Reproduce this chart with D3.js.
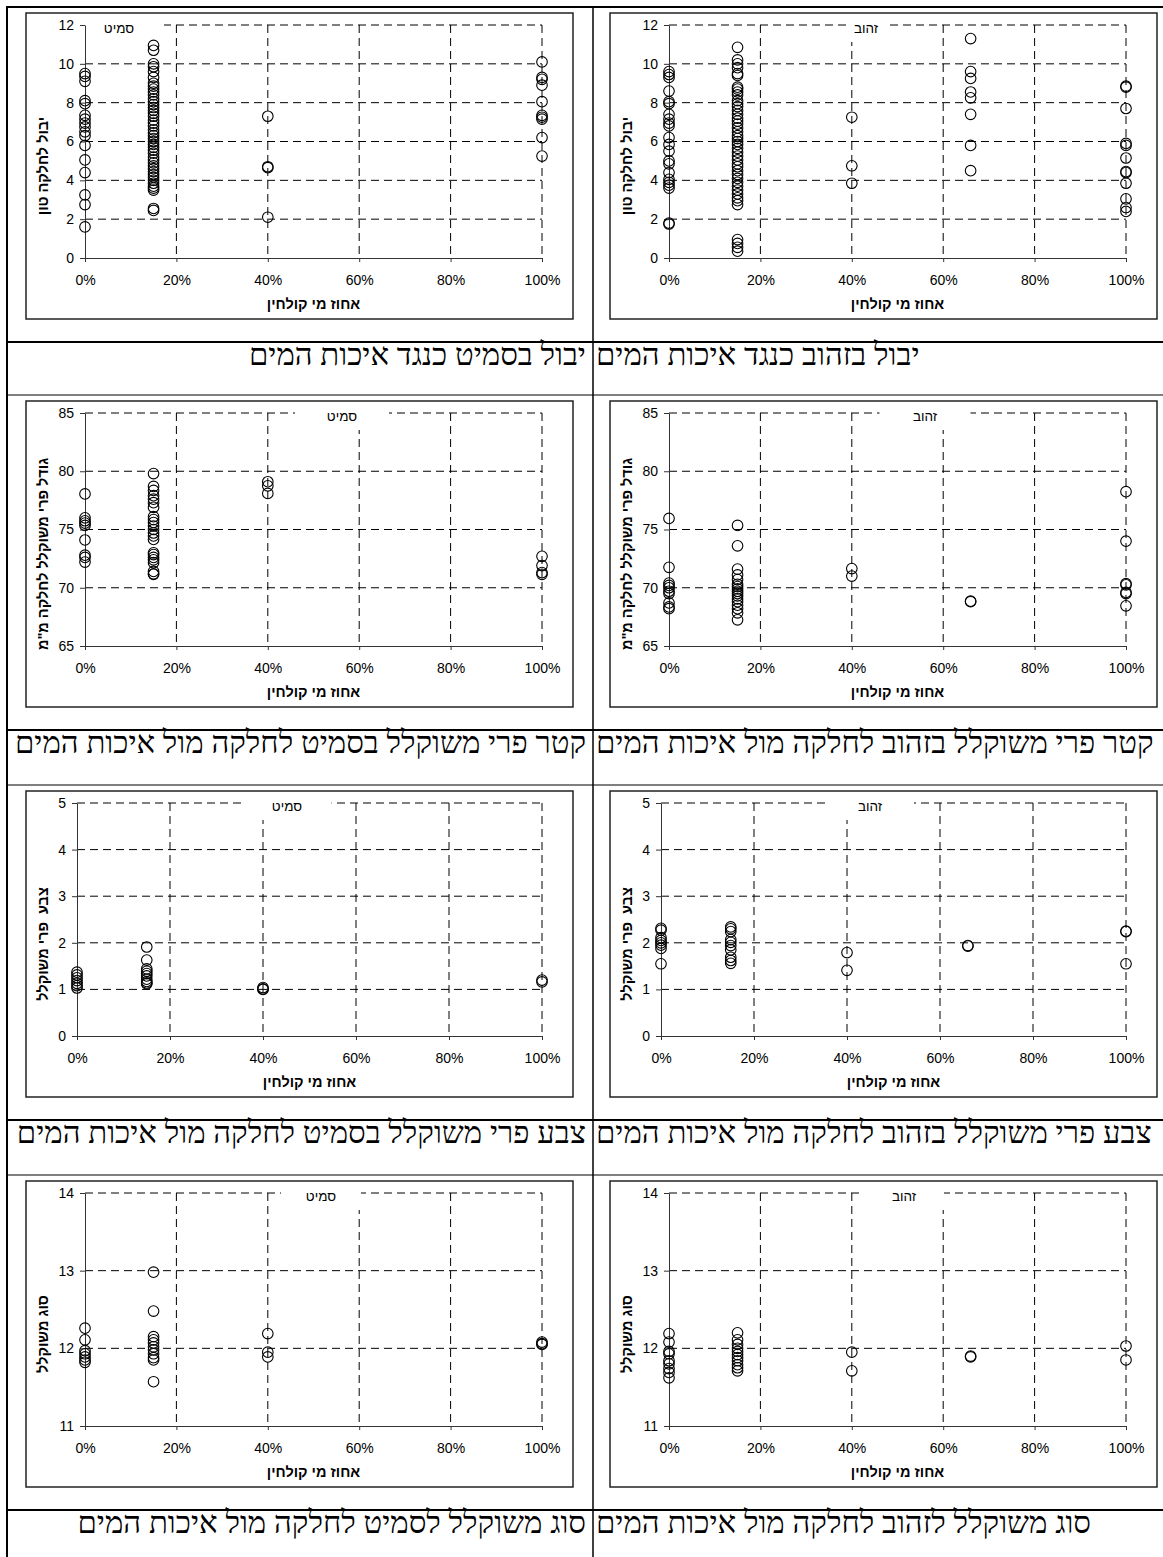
<!DOCTYPE html>
<html>
<head>
<meta charset="utf-8">
<script src="https://cdn.jsdelivr.net/npm/d3@7"></script>
<style>
  body { margin: 0; background: #fff; }
  svg { display: block; }
  .caption { font-family: 'Liberation Serif', 'Times New Roman', serif; font-size: 31px; fill: #000; }
  .ctitle { font-family: 'Liberation Sans', Arial, sans-serif; font-size: 13.5px; fill: #000; }
  .atitle { font-family: 'Liberation Sans', Arial, sans-serif; font-size: 14.5px; font-weight: bold; fill: #000; white-space: pre; }
</style>
</head>
<body>
<svg id="page" width="1163" height="1557"></svg>
<script>
// percent of effluent water on the x axis
const pctTicks = [0, 20, 40, 60, 80, 100]

// yield per plot (ton)
const samitYield = [
  [0, [9.5, 9.35, 9.1, 8.1, 7.95, 7.35, 7.15, 6.95, 6.75, 6.5, 6.3, 5.8, 5.05, 4.4, 3.25, 2.75, 1.6]],
  [15, [10.95, 10.7, 10.0, 9.85, 9.6, 9.3, 9.0, 8.85, 8.7, 8.55, 8.4, 8.2, 8.05, 7.9, 7.75, 7.6, 7.45, 7.3, 7.1, 6.95,
    6.8, 6.6, 6.45, 6.3, 6.15, 6.0, 5.85, 5.7, 5.55, 5.4, 5.2, 5.05, 4.9, 4.75, 4.6, 4.45, 4.3, 4.15, 4.0, 3.85,
    3.7, 3.6, 3.5, 2.55, 2.45]],
  [40, [7.3, 4.7, 4.65, 2.1]],
  [100, [10.1, 9.3, 9.2, 8.9, 8.05, 7.35, 7.25, 7.15, 6.2, 5.25]]
]
const zahovYield = [
  [0, [9.6, 9.45, 9.3, 8.6, 8.05, 7.95, 7.4, 7.15, 6.95, 6.8, 6.2, 5.85, 5.5, 5.0, 4.85, 4.4, 4.05, 3.9, 3.75, 3.6, 1.8, 1.75]],
  [15, [10.85, 10.2, 10.0, 9.8, 9.5, 9.4, 8.8, 8.7, 8.55, 8.4, 8.1, 7.95, 7.8, 7.6, 7.4, 7.2, 7.05, 6.9, 6.7, 6.5,
    6.3, 6.15, 6.0, 5.85, 5.65, 5.45, 5.25, 5.05, 4.85, 4.7, 4.5, 4.3, 4.1, 3.9, 3.7, 3.5, 3.3, 3.1, 2.95, 2.75,
    0.95, 0.75, 0.55, 0.35]],
  [40, [7.25, 4.75, 3.85]],
  [66, [11.3, 9.6, 9.25, 8.55, 8.25, 7.4, 5.8, 4.5]],
  [100, [8.85, 8.8, 7.7, 5.9, 5.8, 5.15, 4.45, 4.4, 3.85, 3.05, 2.6, 2.4]]
]

// weighted fruit diameter per plot (mm)
const samitSize = [
  [0, [78.05, 76.0, 75.75, 75.55, 75.35, 74.1, 72.8, 72.6, 72.2]],
  [15, [79.8, 78.7, 78.35, 77.9, 77.6, 77.3, 76.9, 76.1, 75.85, 75.6, 75.3, 75.0, 74.7, 74.45, 74.15, 73.0, 72.85,
    72.6, 72.4, 72.15, 71.4, 71.2, 71.15]],
  [40, [79.1, 78.75, 78.1]],
  [100, [72.7, 71.9, 71.3, 71.15]]
]
const zahovSize = [
  [0, [75.95, 71.75, 70.4, 70.2, 70.0, 69.7, 69.5, 68.7, 68.35, 68.2]],
  [15, [75.35, 73.6, 71.6, 71.1, 70.7, 70.3, 70.1, 69.9, 69.7, 69.5, 69.3, 69.05, 68.8, 68.5, 68.2, 67.85, 67.25]],
  [40, [71.65, 71.0]],
  [66, [68.85, 68.8]],
  [100, [78.25, 74.0, 70.35, 70.25, 69.6, 69.5, 68.45]]
]

// weighted fruit colour
const samitColor = [
  [0, [1.37, 1.31, 1.25, 1.19, 1.13, 1.08, 1.03]],
  [15, [1.91, 1.63, 1.44, 1.39, 1.34, 1.29, 1.22, 1.17, 1.14, 1.12]],
  [40, [1.04, 1.01, 1.0]],
  [100, [1.2, 1.16]]
]
const zahovColor = [
  [0, [2.31, 2.27, 2.11, 2.05, 2.0, 1.95, 1.88, 1.55]],
  [15, [2.34, 2.3, 2.24, 2.07, 2.01, 1.94, 1.85, 1.69, 1.62, 1.56]],
  [40, [1.79, 1.41]],
  [66, [1.94, 1.93]],
  [100, [2.25, 2.24, 1.55]]
]

// weighted grade
const samitGrade = [
  [0, [12.26, 12.11, 11.97, 11.93, 11.89, 11.85, 11.82]],
  [15, [12.98, 12.48, 12.15, 12.11, 12.07, 12.02, 11.98, 11.93, 11.88, 11.85, 11.57]],
  [40, [12.19, 11.95, 11.89]],
  [100, [12.08, 12.06, 12.05]]
]
const zahovGrade = [
  [0, [12.19, 12.08, 11.96, 11.93, 11.84, 11.8, 11.74, 11.69, 11.62]],
  [15, [12.2, 12.11, 12.05, 12.0, 11.96, 11.92, 11.88, 11.84, 11.79, 11.75, 11.71]],
  [40, [11.95, 11.71]],
  [66, [11.9, 11.89]],
  [100, [12.03, 11.85]]
]

const xTitle = 'אחוז מי קולחין'

const charts = [
  { row: 0, col: 0, title: 'סמיט', yTitle: 'יבול לחלקה טון', domain: [0, 12], step: 2, data: samitYield,
    caption: 'יבול בסמיט כנגד איכות המים' },
  { row: 0, col: 1, title: 'זהוב', yTitle: 'יבול לחלקה טון', domain: [0, 12], step: 2, data: zahovYield,
    caption: 'יבול בזהוב כנגד איכות המים' },
  { row: 1, col: 0, title: 'סמיט', yTitle: 'גודל פרי משוקלל לחלקה מ"מ', domain: [65, 85], step: 5, data: samitSize,
    caption: 'קטר פרי משוקלל בסמיט לחלקה מול איכות המים' },
  { row: 1, col: 1, title: 'זהוב', yTitle: 'גודל פרי משוקלל לחלקה מ"מ', domain: [65, 85], step: 5, data: zahovSize,
    caption: 'קטר פרי משוקלל בזהוב לחלקה מול איכות המים' },
  { row: 2, col: 0, title: 'סמיט', yTitle: 'צבע  פרי משוקלל', domain: [0, 5], step: 1, data: samitColor,
    caption: 'צבע פרי משוקלל בסמיט לחלקה מול איכות המים' },
  { row: 2, col: 1, title: 'זהוב', yTitle: 'צבע  פרי משוקלל', domain: [0, 5], step: 1, data: zahovColor,
    caption: 'צבע פרי משוקלל בזהוב לחלקה מול איכות המים' },
  { row: 3, col: 0, title: 'סמיט', yTitle: 'סוג משוקלל', domain: [11, 14], step: 1, data: samitGrade,
    caption: 'סוג משוקלל לסמיט לחלקה מול איכות המים' },
  { row: 3, col: 1, title: 'זהוב', yTitle: 'סוג משוקלל', domain: [11, 14], step: 1, data: zahovGrade,
    caption: 'סוג משוקלל לזהוב לחלקה מול איכות המים' }
]

// layout
const rowY = [0, 388, 778, 1168]
const frameX = [26, 610]
const frameTop = 13
const frameW = 547
const frameH = 306
const plotTop = 12
const plotH = 233
const plotRight = 516
const titleX = [93, 256, 316, 315, 261, 260, 295, 294] // title centre, from frame left
const titleBoxW = [90, 38, 94, 91, 89, 88, 80, 80]

const svg = d3.select('#page')

charts.forEach((c, i) => {
  const fx = frameX[c.col]
  const fy = frameTop + rowY[c.row]
  const g = svg.append('g').attr('transform', `translate(${fx},${fy})`)

  g.append('rect')
    .attr('width', frameW)
    .attr('height', frameH)
    .attr('fill', '#fff')
    .attr('stroke', '#222')
    .attr('stroke-width', 1.5)

  let digits = String(c.domain[1]).length
  let x = d3.scaleLinear().domain([0, 100]).range([43 + 8 * digits, plotRight])
  let y = d3.scaleLinear().domain(c.domain).range([plotTop + plotH, plotTop])
  let yTicks = d3.range(c.domain[0], c.domain[1] + c.step / 2, c.step)

  // dashed grid
  g.append('g').selectAll('line')
    .data(yTicks.slice(1))
    .join('line')
    .attr('x1', x(0)).attr('x2', x(100))
    .attr('y1', (d) => y(d)).attr('y2', (d) => y(d))
    .attr('stroke', '#000')
    .attr('stroke-dasharray', '8,5')

  g.append('g').selectAll('line')
    .data(pctTicks.slice(1))
    .join('line')
    .attr('x1', (d) => x(d)).attr('x2', (d) => x(d))
    .attr('y1', y(c.domain[1])).attr('y2', y(c.domain[0]))
    .attr('stroke', '#000')
    .attr('stroke-dasharray', '8,5')

  // chart title on a white box
  let ty = plotTop + 3
  g.append('rect')
    .attr('x', titleX[i] - titleBoxW[i] / 2)
    .attr('y', 1)
    .attr('width', titleBoxW[i])
    .attr('height', ty + 13)
    .attr('fill', '#fff')

  g.append('text')
    .attr('class', 'ctitle')
    .attr('x', titleX[i])
    .attr('y', ty)
    .attr('dy', '0.35em')
    .attr('text-anchor', 'middle')
    .text(c.title)

  // axes
  let yAxis = d3.axisLeft(y).tickValues(yTicks).tickFormat(d3.format('d'))
    .tickSize(5).tickSizeOuter(0).tickPadding(6)
  let xAxis = d3.axisBottom(x).tickValues(pctTicks).tickFormat((d) => d + '%')
    .tickSize(4).tickSizeOuter(0).tickPadding(13)

  let ya = g.append('g').attr('transform', `translate(${x(0)},0)`).call(yAxis)
  let xa = g.append('g').attr('transform', `translate(0,${y(c.domain[0])})`).call(xAxis)
  ;[ya, xa].forEach((a) => {
    a.attr('font-family', "'Liberation Sans', Arial, sans-serif").attr('font-size', 14)
    a.selectAll('path, line').attr('stroke', '#333')
    a.selectAll('text').attr('fill', '#000')
  })

  // axis titles
  g.append('text')
    .attr('class', 'atitle')
    .attr('x', (x(0) + x(100)) / 2)
    .attr('y', 291)
    .attr('dy', '0.35em')
    .attr('text-anchor', 'middle')
    .text(xTitle)

  g.append('text')
    .attr('class', 'atitle')
    .attr('transform', `translate(17,${frameH / 2})rotate(-90)`)
    .attr('dy', '0.35em')
    .attr('text-anchor', 'middle')
    .text(c.yTitle)

  // points
  let pts = c.data.flatMap(([p, vals]) => vals.map((v) => ({ p, v })))
  g.append('g').selectAll('circle')
    .data(pts)
    .join('circle')
    .attr('cx', (d) => x(d.p))
    .attr('cy', (d) => y(d.v))
    .attr('r', 5.3)
    .attr('fill', 'none')
    .attr('stroke', '#000')
    .attr('stroke-width', 1.1)

  // caption under the chart
  svg.append('text')
    .attr('class', 'caption')
    .attr('x', c.col ? 596 : 586)
    .attr('y', 365 + rowY[c.row])
    .attr('text-anchor', c.col ? 'start' : 'end')
    .text(c.caption)
})

// table rules
let rules = svg.append('g').attr('stroke', '#000')
rules.append('line').attr('x1', 7).attr('x2', 1163).attr('y1', 7).attr('y2', 7).attr('stroke-width', 2)
rules.append('line').attr('x1', 7).attr('x2', 7).attr('y1', 6).attr('y2', 1557).attr('stroke-width', 2)
rules.append('line').attr('x1', 593).attr('x2', 593).attr('y1', 6).attr('y2', 1557).attr('stroke-width', 1.5)
rules.selectAll('.cap')
  .data(rowY)
  .join('line')
  .attr('x1', 7).attr('x2', 1163)
  .attr('y1', (d) => 342 + d).attr('y2', (d) => 342 + d)
  .attr('stroke-width', 2)
rules.selectAll('.cell')
  .data(rowY.slice(1))
  .join('line')
  .attr('x1', 7).attr('x2', 1163)
  .attr('y1', (d) => 7 + d).attr('y2', (d) => 7 + d)
  .attr('stroke-width', 1.2)
</script>
</body>
</html>
